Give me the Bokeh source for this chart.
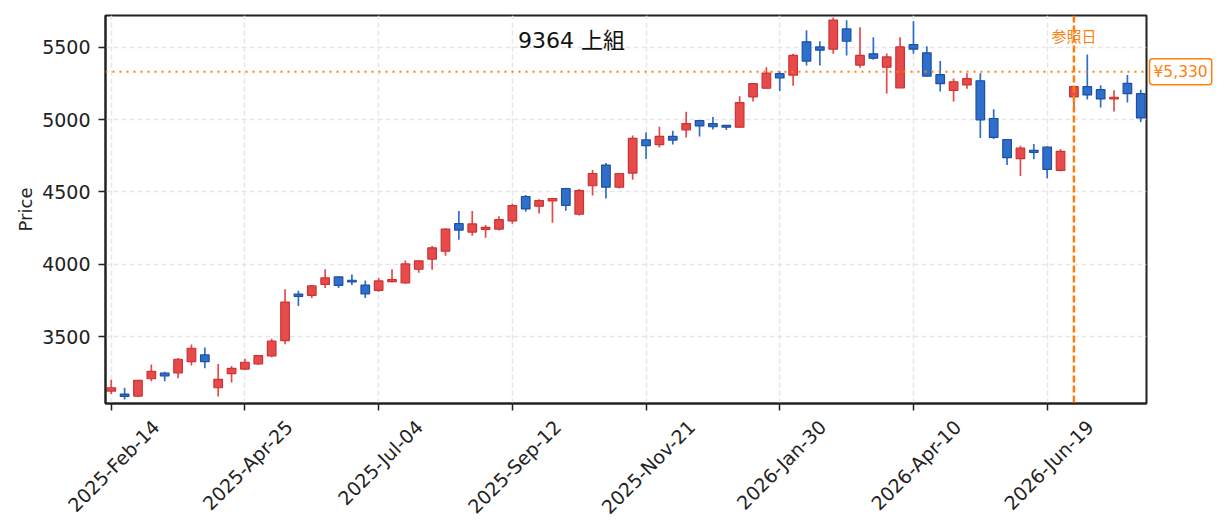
import math
import pandas as pd
from bokeh.plotting import figure
from bokeh.models import (Range1d, FixedTicker, Span, Label, ColumnDataSource,
                          CustomJSTickFormatter, LinearAxis)
from bokeh.embed import file_html
from bokeh.resources import INLINE

# ---------------- data ----------------
week_start = "2025-02-14"
n_weeks = 78
opens = [3123, 3102, 3088, 3208, 3248, 3248, 3326, 3373, 3146, 3243,
         3275, 3310, 3366, 3472, 3794, 3785, 3861, 3912, 3889, 3856,
         3819, 3880, 3870, 3965, 4035, 4090, 4280, 4222, 4241, 4243,
         4299, 4468, 4401, 4438, 4523, 4345, 4542, 4685, 4532, 4630,
         4860, 4826, 4883, 4929, 4993, 4972, 4959, 4947, 5156, 5216,
         5317, 5307, 5537, 5502, 5486, 5626, 5376, 5454, 5362, 5218,
         5518, 5461, 5310, 5202, 5239, 5268, 5007, 4862, 4729, 4787,
         4810, 4649, 5156, 5227, 5206, 5142, 5250, 5179]
highs = [3201, 3146, 3200, 3306, 3257, 3352, 3444, 3424, 3310, 3296,
         3347, 3373, 3484, 3826, 3817, 3856, 3965, 3915, 3928, 3887,
         3907, 3965, 4025, 4025, 4125, 4248, 4368, 4368, 4271, 4331,
         4417, 4479, 4449, 4458, 4528, 4519, 4651, 4699, 4630, 4889,
         4912, 4950, 4922, 5053, 4995, 5018, 4960, 5161, 5250, 5362,
         5333, 5454, 5617, 5541, 5705, 5686, 5638, 5569, 5456, 5569,
         5679, 5507, 5404, 5284, 5319, 5319, 5071, 4865, 4819, 4830,
         4814, 4796, 5228, 5450, 5236, 5202, 5307, 5206]
lows = [3102, 3065, 3080, 3190, 3190, 3211, 3299, 3280, 3086, 3183,
        3268, 3303, 3357, 3447, 3711, 3766, 3836, 3836, 3856, 3766,
        3810, 3873, 3864, 3940, 3961, 4058, 4169, 4197, 4183, 4232,
        4280, 4363, 4350, 4287, 4370, 4336, 4475, 4454, 4523, 4583,
        4727, 4807, 4828, 4876, 4883, 4931, 4927, 4945, 5124, 5215,
        5197, 5234, 5374, 5374, 5454, 5443, 5358, 5413, 5179, 5217,
        5454, 5298, 5193, 5124, 5213, 4872, 4865, 4686, 4610, 4725,
        4594, 4642, 5094, 5138, 5083, 5055, 5117, 4982]
closes = [3146, 3086, 3197, 3259, 3227, 3343, 3419, 3326, 3204, 3280,
          3322, 3368, 3468, 3738, 3778, 3850, 3905, 3854, 3877, 3794,
          3884, 3894, 4002, 4023, 4113, 4243, 4236, 4278, 4255, 4308,
          4405, 4382, 4440, 4454, 4407, 4509, 4627, 4532, 4627, 4870,
          4820, 4883, 4858, 4972, 4956, 4950, 4947, 5117, 5248, 5321,
          5287, 5443, 5404, 5479, 5688, 5541, 5443, 5424, 5433, 5502,
          5486, 5300, 5248, 5261, 5282, 4998, 4876, 4736, 4803, 4773,
          4656, 4780, 5227, 5170, 5142, 5154, 5179, 5011]

ref_price = 5330
ref_date = "2026-07-03"
ref_label = "参照日"
title_text = "9364  上組"
y_label = "Price"
y_ticks = [3500, 4000, 4500, 5000, 5500]
x_tick_dates = ["2025-02-14", "2025-04-25", "2025-07-04", "2025-09-12",
                "2025-11-21", "2026-01-30", "2026-04-10", "2026-06-19"]
x_tick_labels = ["2025-Feb-14", "2025-Apr-25", "2025-Jul-04", "2025-Sep-12",
                 "2025-Nov-21", "2026-Jan-30", "2026-Apr-10", "2026-Jun-19"]
x_start, x_end = "2025-02-11", "2026-08-10"
y_start, y_end = 3037, 5719

# ---------------- styling ----------------
LATIN = "DejaVu Sans"
TITLE_FONT = "'DejaVu Sans', 'Noto Sans CJK JP'"
CJK = "Noto Sans CJK JP"
UP_FILL, UP_LINE = "#e64a4a", "#cc3434"
DN_FILL, DN_LINE = "#2e6fcb", "#1d4fa2"
ORANGE = "#ff7f0e"
DARK = "#222222"
DAY_MS = 86400000
FRAME_W, FRAME_H = 1041, 388
TICK_PX = 19


def ms(d):
    return pd.Timestamp(d).value / 1e6


dates = pd.date_range(week_start, periods=n_weeks, freq="7D")
up = [c >= o for o, c in zip(opens, closes)]
src = ColumnDataSource(dict(
    x=dates,
    top=[max(o, c) for o, c in zip(opens, closes)],
    bottom=[min(o, c) for o, c in zip(opens, closes)],
    high=highs,
    low=lows,
    fill=[UP_FILL if u else DN_FILL for u in up],
    line=[UP_LINE if u else DN_LINE for u in up],
))

p = figure(x_axis_type="datetime",
           x_range=Range1d(ms(x_start), ms(x_end)),
           y_range=Range1d(y_start, y_end),
           frame_width=FRAME_W, frame_height=FRAME_H,
           min_border_left=105, min_border_right=79,
           min_border_top=15, min_border_bottom=100,
           output_backend="svg", toolbar_location=None,
           background_fill_color="white", border_fill_color="white")
# keep the double space of the title (inherited into the SVG text)
p.stylesheets = [":host { white-space: pre; }"]

p.segment(x0="x", y0="low", x1="x", y1="high", source=src,
          line_color="fill", line_width=1.7)
p.vbar(x="x", width=4.5 * DAY_MS, top="top", bottom="bottom", source=src,
       fill_color="fill", line_color="line", line_width=1.2)

# reference lines
p.add_layout(Span(location=ref_price, dimension="width", line_color=ORANGE,
                  line_width=2, line_dash="2 5"))
p.add_layout(Span(location=ms(ref_date), dimension="height", line_color=ORANGE,
                  line_width=2.5, line_dash="7 3"))

# price tag outside the frame (right side panel, so it is not clipped)
p.add_layout(Label(x=ms(x_end), y=ref_price, x_offset=3, text=f"¥{ref_price:,}",
                   text_align="left", text_baseline="middle",
                   text_color=ORANGE, text_font=LATIN, text_font_size="15.5px",
                   background_fill_color="white", border_line_color=ORANGE,
                   border_line_width=1.5, padding=4, border_radius=3), "right")
p.add_layout(Label(x=ms(ref_date), y=y_end, y_offset=-20, text=ref_label,
                   text_align="center", text_baseline="middle",
                   text_color=ORANGE, text_font=CJK, text_font_size="15px"))
p.add_layout(Label(x=ms("2025-09-15"), y=y_end, y_offset=-24.5, text=title_text,
                   text_align="left", text_baseline="middle",
                   text_color="#111111", text_font=TITLE_FONT, text_font_size="22px"))

# axes
p.outline_line_color = DARK
p.outline_line_width = 2
for ax in (p.xaxis[0], p.yaxis[0]):
    ax.axis_line_color = DARK
    ax.axis_line_width = 2
    ax.major_tick_line_color = DARK
    ax.major_tick_line_width = 1.5
    ax.major_tick_out = 7
    ax.major_tick_in = 0
    ax.minor_tick_line_color = None
    ax.major_label_text_font = LATIN
    ax.major_label_text_font_size = f"{TICK_PX}px"
    ax.major_label_text_color = DARK
    ax.major_label_standoff = 8

p.yaxis.ticker = FixedTicker(ticks=y_ticks)
p.yaxis.axis_label = y_label
p.yaxis.axis_label_text_font = LATIN
p.yaxis.axis_label_text_font_size = "18px"
p.yaxis.axis_label_text_font_style = "normal"
p.yaxis.axis_label_text_color = DARK
p.yaxis.axis_label_standoff = 3

# x axis: tick marks only
xa = p.xaxis[0]
xa.ticker = FixedTicker(ticks=[ms(d) for d in x_tick_dates])
xa.formatter = CustomJSTickFormatter(code="return ''")
xa.major_label_standoff = 0
xa.major_label_text_font_size = "1px"

# second axis carrying the rotated date labels, each centred under its tick
ADV = {"0": .636, "1": .636, "2": .636, "3": .636, "4": .636, "5": .636, "6": .636,
       "7": .636, "8": .636, "9": .636, "-": .361, "F": .575, "e": .615, "b": .635,
       "A": .684, "p": .635, "r": .411, "J": .295, "u": .634, "l": .278, "S": .635,
       "N": .748, "o": .612, "v": .592, "a": .613, "n": .634}
px_per_day = FRAME_W / ((ms(x_end) - ms(x_start)) / DAY_MS)
shifted = []
for d, lab in zip(x_tick_dates, x_tick_labels):
    length = TICK_PX * sum(ADV.get(ch, .6) for ch in lab)
    shifted.append(ms(d) + (length * math.cos(math.pi / 4) / 2 + 2) / px_per_day * DAY_MS)
xb = LinearAxis(ticker=FixedTicker(ticks=shifted),
                formatter=CustomJSTickFormatter(args=dict(labels=x_tick_labels),
                                                code="return labels[index]"),
                axis_line_color=None, major_tick_line_color=None,
                major_tick_out=0, major_tick_in=0, minor_tick_line_color=None,
                major_label_orientation=math.pi / 4, major_label_standoff=13,
                major_label_text_font=LATIN, major_label_text_font_size=f"{TICK_PX}px",
                major_label_text_color=DARK)
p.add_layout(xb, "below")

for g in (p.xgrid[0], p.ygrid[0]):
    g.grid_line_color = "#e6e6e6"
    g.grid_line_width = 1.5
    g.grid_line_dash = "5 3"

open("out.html", "w").write(file_html(p, INLINE))
